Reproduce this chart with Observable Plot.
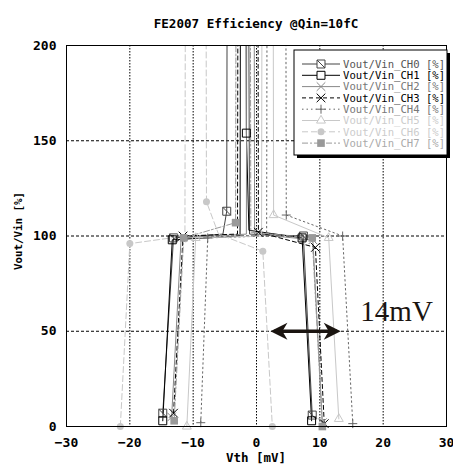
<!DOCTYPE html>
<html><head><meta charset="utf-8">
<script src="https://cdn.jsdelivr.net/npm/d3@7"></script>
<script src="https://cdn.jsdelivr.net/npm/@observablehq/plot@0.6"></script>
<style>
body{margin:0;background:#fff;}
#title{height:14px;padding-top:16px;line-height:14px;font:bold 12.6px "DejaVu Sans Mono",monospace;text-align:center;padding-left:66px;padding-right:7px;color:#000;white-space:nowrap;}
</style></head><body>
<div id="title">FE2007 Efficiency @Qin=10fC</div>
<div id="chart"></div>
<script>
// ---- data (300 = off-scale, above 200 %) ----
const channels = ["CH0","CH1","CH2","CH3","CH4","CH5","CH6","CH7"];
const vthCH0 = [-14.8,-13.1,-5.3,-4.7,-4.6,-1.3,-1.1,7.4,8.8];
const effCH0 = [7,99,101,113,300,300,101,100,6];
const mkCH0  = [1,1,0,1,1,1,0,1,1];
const vthCH1 = [-14.8,-13.3,-2.6,-2.5,-1.7,-1.6,-1.2,7.2,8.7];
const effCH1 = [3,98,100,300,300,154,103,99,3];
const mkCH1  = [1,1,0,1,1,1,0,1,1];
const vthCH2 = [-13.4,-11.9,-1.6,-1.5,-0.4,-0.3,8.9,10.4];
const effCH2 = [5,99,101,300,300,101,98,2];
const mkCH2  = [1,1,0,1,1,0,1,1];
const vthCH3 = [-13.1,-11.6,-3.0,-2.9,0.2,0.3,9.3,10.7];
const effCH3 = [7,100,101,300,300,102,94,1.5];
const mkCH3  = [1,1,0,1,1,1,1,1];
const vthCH4 = [-8.8,-7.7,1.6,1.7,4.6,4.7,13.6,15.2];
const effCH4 = [2,99,100,300,300,111,100,1.5];
const mkCH4  = [1,1,0,1,1,1,1,1];
const vthCH5 = [-11,-9.6,0.8,0.9,2.6,2.7,11.4,13];
const effCH5 = [0,99,100,300,300,111,99,4];
const mkCH5  = [1,1,0,1,1,1,1,1];
const vthCH6 = [-21.5,-20,-11.3,-11.2,-8,-7.9,-6,1,2.5];
const effCH6 = [0,96,100,300,300,118,101,92,0];
const mkCH6  = [1,1,0,1,1,1,0,1,1];
const vthCH7 = [-13,-11.5,-3.3,-3.2,-1.0,-0.9,8.8,10.4];
const effCH7 = [3,99,107,300,300,102,99,0];
const mkCH7  = [1,1,1,1,1,0,1,1];
const xTicks = [-30,-20,-10,0,10,20,30];
const yTicks = [0,50,100,150,200];
const xGrid = [-20,-10,0,10,20];
const yGrid = [50,100,150];
const arrowSpec = {x1:2.2, x2:13.3, y:50};
const annotation = {x:16.4, y:60.5, text:"14mV"};

const vths = [vthCH0,vthCH1,vthCH2,vthCH3,vthCH4,vthCH5,vthCH6,vthCH7];
const effs = [effCH0,effCH1,effCH2,effCH3,effCH4,effCH5,effCH6,effCH7];
const mks  = [mkCH0,mkCH1,mkCH2,mkCH3,mkCH4,mkCH5,mkCH6,mkCH7];
const series = channels.map((c,i)=>vths[i].map((v,j)=>({vth:v, eff:effs[i][j], mk:mks[i][j]})));

// ---- styles ----
const squareDiag = {draw(ctx,size){const s=Math.sqrt(size)/2;ctx.moveTo(-s,-s);ctx.lineTo(s,-s);ctx.lineTo(s,s);ctx.lineTo(-s,s);ctx.closePath();ctx.moveTo(-s,-s);ctx.lineTo(s,s);}};
const headRight = {draw(ctx){ctx.moveTo(0,0);ctx.lineTo(-17,-8.5);ctx.lineTo(-12,0);ctx.lineTo(-17,8.5);ctx.closePath();}};
const headLeft = {draw(ctx){ctx.moveTo(0,0);ctx.lineTo(17,-8.5);ctx.lineTo(12,0);ctx.lineTo(17,8.5);ctx.closePath();}};
const styles = [
 {stroke:"#444", text:"#555", symbol:squareDiag, d3sym:squareDiag, r:4.5, fill:"none", mstroke:"#444"},
 {stroke:"#000", text:"#000", symbol:"square", d3sym:d3.symbolSquare, r:4.5, fill:"none", mstroke:"#000"},
 {stroke:"#888", text:"#777", symbol:"times", d3sym:d3.symbolTimes, r:4, fill:"none", mstroke:"#888"},
 {stroke:"#000", text:"#000", dash:"4,3", symbol:"times", d3sym:d3.symbolTimes, r:4, fill:"none", mstroke:"#000"},
 {stroke:"#666", text:"#777", dash:"1.5,3", symbol:"plus", d3sym:d3.symbolPlus, r:3, fill:"none", mstroke:"#666"},
 {stroke:"#c8c8c8", text:"#ccc", symbol:"triangle", d3sym:d3.symbolTriangle, r:3.3, fill:"none", mstroke:"#c8c8c8"},
 {stroke:"#c8c8c8", text:"#ccc", dash:"6,3", symbol:"circle", d3sym:d3.symbolCircle, r:3.5, fill:"#c8c8c8", mstroke:"none"},
 {stroke:"#999", text:"#aaa", dash:"6,2,2,2", symbol:"square", d3sym:d3.symbolSquare, r:4.3, fill:"#999", mstroke:"none"}
];

const marks = [
  Plot.ruleX(xGrid, {stroke:"#000", strokeDasharray:"1.5,1.5"}),
  Plot.ruleY(yGrid, {stroke:"#000", strokeDasharray:"3,2"})
];
series.forEach((s,i)=>{
  const st = styles[i];
  marks.push(Plot.line(s, {x:"vth", y:"eff", stroke:st.stroke, strokeWidth:1, strokeDasharray:st.dash, clip:true}));
});
series.forEach((s,i)=>{
  const st = styles[i];
  marks.push(Plot.dot(s.filter(d=>d.eff<=200 && d.mk), {x:"vth", y:"eff", symbol:st.symbol, r:st.r, fill:st.fill, stroke:st.mstroke, strokeWidth:1}));
});
marks.push(Plot.frame({stroke:"#000"}));
marks.push(Plot.link([arrowSpec], {x1:d=>d.x1+0.6, x2:d=>d.x2-0.6, y1:"y", y2:"y", stroke:"#1a1410", strokeWidth:3.5}));
marks.push(Plot.dot([arrowSpec], {x:"x2", y:"y", symbol:headRight, r:5, fill:"#1a1410", stroke:"none"}));
marks.push(Plot.dot([arrowSpec], {x:"x1", y:"y", symbol:headLeft, r:5, fill:"#1a1410", stroke:"none"}));
marks.push(Plot.text([annotation], {x:"x", y:"y", text:"text", textAnchor:"start", fontFamily:"'Liberation Serif', serif", fontSize:29, fontWeight:"normal", fill:"#1a1410"}));

const chart = Plot.plot({
  width:453, height:441, marginTop:15, marginRight:7, marginBottom:45, marginLeft:66,
  style:{fontFamily:'"DejaVu Sans Mono", monospace', fontSize:"13px", fontWeight:"bold", background:"#fff", overflow:"visible"},
  x:{domain:[-30,30], ticks:xTicks, tickSize:0, tickPadding:11, label:null},
  y:{domain:[0,200], ticks:yTicks, tickSize:0, tickPadding:10, label:null},
  marks
});
document.getElementById("chart").appendChild(chart);

// axis titles
const svg = d3.select(chart);
svg.append("text").attr("x",256).attr("y",432).attr("text-anchor","middle")
  .attr("font-size","12.5px").attr("font-weight","bold").attr("fill","#000").text("Vth [mV]");
svg.append("text").attr("transform","translate(22,201) rotate(-90)").attr("text-anchor","middle")
  .attr("font-size","10.8px").attr("font-weight","bold").attr("fill","#000").text("Vout/Vin [%]");

// legend
const lg = svg.append("g");
lg.append("rect").attr("x",297).attr("y",23).attr("width",153).attr("height",105).attr("fill","#000");
lg.append("rect").attr("x",294).attr("y",20).attr("width",153).attr("height",105).attr("fill","#fff").attr("stroke","#000");
channels.forEach((c,i)=>{
  const st = styles[i], y = 34 + i*11.3;
  lg.append("line").attr("x1",302).attr("x2",340).attr("y1",y).attr("y2",y)
    .attr("stroke",st.stroke).attr("stroke-dasharray",st.dash||null);
  lg.append("path").attr("transform",`translate(321,${y})`)
    .attr("d", d3.symbol(st.d3sym, Math.PI*st.r*st.r)())
    .attr("fill", st.fill==="none" ? "#fff" : st.fill).attr("stroke", st.mstroke);
  lg.append("text").attr("x",343).attr("y",y).attr("dy","0.35em").attr("text-anchor","start")
    .attr("font-size","10.6px").attr("font-weight","normal").attr("fill",st.text)
    .text(`Vout/Vin_${c} [%]`);
});
</script>
</body></html>
